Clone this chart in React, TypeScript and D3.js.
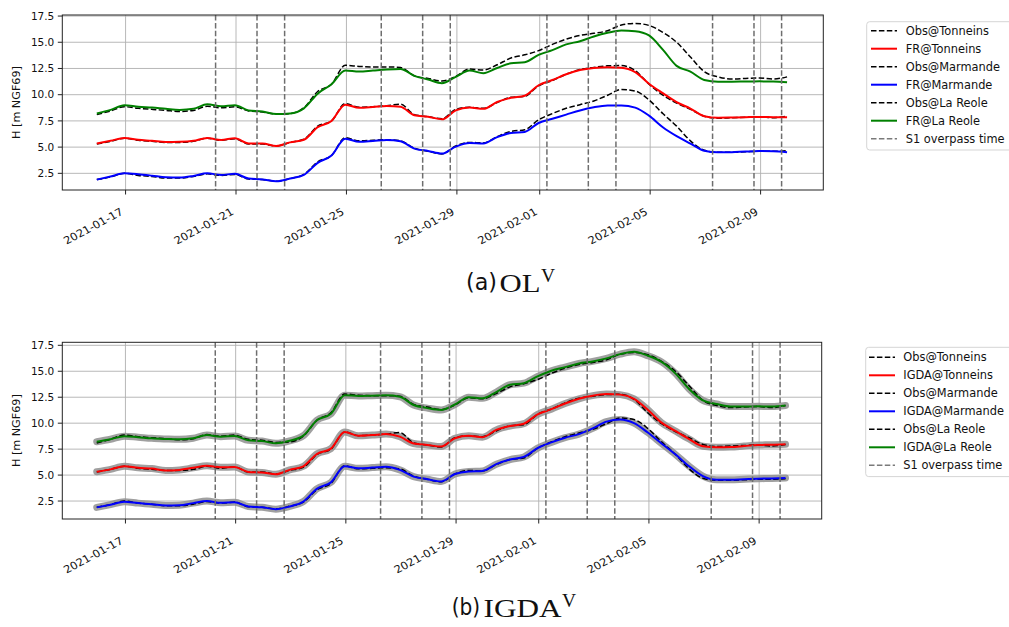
import React from 'react';
import * as d3 from 'd3';

// ---------- DATA ----------
const START_TIME = '2021-01-15T23:00:00';
const STEP_HOURS = 12;

const obsTonneins = [
  5.3, 5.55, 5.85, 5.65, 5.55, 5.45, 5.45, 5.55, 5.85, 5.65,
  5.8, 5.3, 5.3, 5.1, 5.45, 5.75, 7.0, 7.5, 9.15, 8.8,
  8.85, 8.95, 9.1, 8.1, 7.9, 7.7, 8.6, 8.8, 8.7, 9.25,
  9.75, 9.85, 10.85, 11.35, 11.95, 12.4, 12.6, 12.75, 12.78, 12.3,
  11.0, 9.95, 9.2, 8.6, 7.95, 7.75, 7.8, 7.85, 7.9, 7.8,
  7.95,
];
const frTonneins = [
  5.34, 5.6, 5.87, 5.7, 5.6, 5.48, 5.5, 5.6, 5.88, 5.68,
  5.85, 5.35, 5.34, 5.1, 5.45, 5.7, 6.9, 7.5, 9.05, 8.75,
  8.82, 8.92, 8.85, 8.04, 7.9, 7.65, 8.5, 8.77, 8.65, 9.3,
  9.7, 9.9, 10.9, 11.4, 11.95, 12.35, 12.55, 12.62, 12.58, 12.15,
  11.05, 10.15, 9.3, 8.68, 7.95, 7.8, 7.82, 7.85, 7.88, 7.86,
  7.85,
];
const obsMarmande = [
  1.9, 2.15, 2.5, 2.3, 2.2, 2.05, 2.05, 2.2, 2.45, 2.3,
  2.4, 1.95, 1.9, 1.75, 2.0, 2.4, 3.6, 4.2, 5.9, 5.6,
  5.65, 5.7, 5.6, 4.9, 4.6, 4.35, 5.1, 5.45, 5.4, 6.0,
  6.5, 6.65, 7.6, 8.2, 8.7, 9.05, 9.4, 9.95, 10.5, 10.35,
  9.5, 8.2, 7.0, 5.6, 4.7, 4.5, 4.5, 4.55, 4.6, 4.6,
  4.65,
];
const frMarmande = [
  1.9, 2.2, 2.5, 2.42, 2.28, 2.12, 2.1, 2.25, 2.5, 2.35,
  2.45, 2.0, 1.92, 1.74, 2.0, 2.35, 3.5, 4.2, 5.8, 5.5,
  5.58, 5.68, 5.55, 4.86, 4.63, 4.38, 5.05, 5.4, 5.35, 5.95,
  6.35, 6.45, 7.3, 7.7, 8.1, 8.5, 8.8, 8.97, 8.98, 8.77,
  8.0, 6.9, 6.05, 5.34, 4.65, 4.5, 4.52, 4.58, 4.62, 4.6,
  4.52,
];
const obsLaReole = [
  8.1, 8.45, 8.85, 8.7, 8.6, 8.5, 8.4, 8.5, 8.9, 8.75,
  8.85, 8.45, 8.35, 8.15, 8.2, 8.75, 10.3, 11.0, 12.8, 12.7,
  12.65, 12.65, 12.6, 11.8, 11.55, 11.3, 11.75, 12.45, 12.35, 12.85,
  13.5, 13.8, 14.2, 14.8, 15.3, 15.65, 15.85, 16.1, 16.65, 16.8,
  16.6, 15.95, 15.0, 13.6, 12.2, 11.7, 11.5, 11.55, 11.6, 11.5,
  11.7,
];
const frLaReole = [
  8.2, 8.55, 9.0, 8.85, 8.77, 8.65, 8.55, 8.65, 9.08, 8.9,
  9.0, 8.5, 8.4, 8.15, 8.2, 8.7, 10.1, 11.0, 12.3, 12.2,
  12.3, 12.4, 12.45, 11.8, 11.45, 11.1, 11.7, 12.3, 12.05, 12.55,
  13.0, 13.1, 13.8, 14.25, 14.8, 15.1, 15.55, 15.9, 16.12, 16.06,
  15.65, 14.3, 12.75, 12.2, 11.4, 11.24, 11.24, 11.26, 11.27, 11.25,
  11.18,
];
const igdaTonneins = [
  5.32, 5.55, 5.85, 5.7, 5.63, 5.45, 5.5, 5.7, 5.9, 5.75,
  5.78, 5.3, 5.25, 5.08, 5.5, 5.85, 7.05, 7.55, 9.15, 8.78,
  8.85, 8.95, 8.7, 8.04, 7.9, 7.75, 8.55, 8.78, 8.65, 9.35,
  9.73, 9.95, 10.85, 11.35, 11.9, 12.35, 12.65, 12.8, 12.75, 12.35,
  11.3, 10.05, 9.25, 8.47, 7.78, 7.68, 7.7, 7.8, 7.9, 7.92,
  7.97,
];
const igdaMarmande = [
  1.89, 2.15, 2.43, 2.3, 2.2, 2.07, 2.1, 2.3, 2.5, 2.33,
  2.38, 1.98, 1.9, 1.72, 1.98, 2.45, 3.7, 4.3, 5.85, 5.65,
  5.72, 5.8, 5.5, 4.85, 4.6, 4.38, 5.1, 5.35, 5.4, 6.05,
  6.5, 6.75, 7.6, 8.15, 8.6, 8.95, 9.5, 10.15, 10.35, 10.0,
  9.1, 8.05, 7.0, 5.85, 4.9, 4.55, 4.55, 4.6, 4.65, 4.68,
  4.72,
];
const igdaLaReole = [
  8.21, 8.45, 8.75, 8.65, 8.54, 8.48, 8.44, 8.55, 8.85, 8.7,
  8.76, 8.35, 8.28, 8.06, 8.3, 8.8, 10.3, 10.9, 12.7, 12.62,
  12.65, 12.68, 12.55, 11.75, 11.45, 11.27, 11.8, 12.5, 12.4, 13.0,
  13.7, 13.85, 14.5, 15.05, 15.4, 15.75, 15.95, 16.24, 16.65, 16.88,
  16.5, 15.9, 14.8, 13.3, 12.2, 11.85, 11.6, 11.6, 11.62, 11.6,
  11.7,
];

const s1Overpass = [
  '2021-01-20T06:15:00', '2021-01-21T18:15:00', '2021-01-22T18:15:00',
  '2021-01-26T06:15:00', '2021-01-27T18:15:00', '2021-01-28T18:15:00',
  '2021-02-01T06:15:00', '2021-02-02T18:15:00', '2021-02-03T18:15:00',
  '2021-02-07T06:15:00', '2021-02-08T18:15:00', '2021-02-09T18:15:00',
];
const xTickLabels = ['2021-01-17', '2021-01-21', '2021-01-25', '2021-01-29', '2021-02-01', '2021-02-05', '2021-02-09'];
const yTicks = [2.5, 5.0, 7.5, 10.0, 12.5, 15.0, 17.5];
const stations = ['Tonneins', 'Marmande', 'La Reole'];
const stationColors = ['#ff0000', '#0000ff', '#008000'];
const X_DOMAIN = ['2021-01-14T17:00:00', '2021-02-11T06:30:00'];

// ---------- HELPERS ----------
const startMs = new Date(START_TIME).getTime();
const dates = obsTonneins.map((_, i) => new Date(startMs + i * STEP_HOURS * 3600e3));
const parseLocal = (s: string) => new Date(s.length === 10 ? s + 'T00:00:00' : s);
const FONT = 'DejaVu Sans, Verdana, sans-serif';
const SERIF = 'Liberation Serif, DejaVu Serif, serif';

type PanelProps = {
  x0: number; x1: number; y0: number; y1: number;
  yDomain: [number, number];
  prefix: string;
  model: number[][];
  ensemble: boolean;
  legend: { x: number; y: number; h: number; hx0: number; hx1: number; tx: number; row0: number };
};

function Panel({ x0, x1, y0, y1, yDomain, prefix, model, ensemble, legend }: PanelProps) {
  const x = d3.scaleTime().domain(X_DOMAIN.map(parseLocal)).range([x0, x1]);
  const y = d3.scaleLinear().domain(yDomain).range([y1, y0]);
  const line = d3
    .line<number>()
    .x((_, i) => x(dates[i]))
    .y((d) => y(d))
    .curve(d3.curveMonotoneX);
  const obs = [obsTonneins, obsMarmande, obsLaReole];
  const tickDates = xTickLabels.map(parseLocal);
  const s1 = s1Overpass.map(parseLocal);
  const clipId = 'clip' + prefix;

  const legendItems: { label: string; color: string; dash: boolean }[] = [];
  stations.forEach((s, i) => {
    legendItems.push({ label: 'Obs@' + s, color: '#000', dash: true });
    legendItems.push({ label: prefix + '@' + s, color: stationColors[i], dash: false });
  });
  legendItems.push({ label: 'S1 overpass time', color: '#7a7a7a', dash: true });

  return (
    <g>
      <defs>
        <clipPath id={clipId}>
          <rect x={x0} y={y0} width={x1 - x0} height={y1 - y0} />
        </clipPath>
      </defs>
      {/* grid */}
      {yTicks.map((t) => (
        <line key={'gy' + t} x1={x0} x2={x1} y1={y(t)} y2={y(t)} stroke="#b0b0b0" strokeWidth={0.9} />
      ))}
      {tickDates.map((d, i) => (
        <line key={'gx' + i} x1={x(d)} x2={x(d)} y1={y0} y2={y1} stroke="#b0b0b0" strokeWidth={0.9} />
      ))}
      <g clipPath={`url(#${clipId})`}>
        {ensemble &&
          model.map((m, i) => (
            <path key={'ens' + i} d={line(m) || ''} fill="none" stroke="#8f8f8f" strokeOpacity={0.85} strokeWidth={7} strokeLinejoin="round" strokeLinecap="round" />
          ))}
        {stations.map((s, i) => (
          <g key={s}>
            <path d={line(obs[i]) || ''} fill="none" stroke="#000" strokeWidth={1.5} strokeDasharray="5.5,2.4" />
            <path d={line(model[i]) || ''} fill="none" stroke={stationColors[i]} strokeWidth={2} strokeLinejoin="round" />
          </g>
        ))}
        {s1.map((d, i) => (
          <line key={'s1' + i} x1={x(d)} x2={x(d)} y1={y0} y2={y1} stroke="#6e6e6e" strokeWidth={1.5} strokeDasharray="5.5,2.4" />
        ))}
      </g>
      {/* spine */}
      <rect x={x0} y={y0} width={x1 - x0} height={y1 - y0} fill="none" stroke="#222" strokeWidth={1} />
      {/* y ticks */}
      {yTicks.map((t) => (
        <g key={'yt' + t}>
          <line x1={x0 - 4.5} x2={x0} y1={y(t)} y2={y(t)} stroke="#222" strokeWidth={1} />
          <text x={x0 - 8} y={y(t) + 3.8} textAnchor="end" fontFamily={FONT} fontSize={10.5} fill="#111">
            {t.toFixed(1)}
          </text>
        </g>
      ))}
      {/* x ticks */}
      {tickDates.map((d, i) => {
        const tx = x(d);
        return (
          <g key={'xt' + i}>
            <line x1={tx} x2={tx} y1={y1} y2={y1 + 4.5} stroke="#222" strokeWidth={1} />
            <text
              transform={`translate(${tx - 1.5},${y1 + 24}) scale(1.08,1) rotate(-30)`}
              textAnchor="end"
              fontFamily={FONT}
              fontSize={10.6}
              fill="#111"
            >
              {xTickLabels[i]}
            </text>
          </g>
        );
      })}
      {/* y label */}
      <text
        transform={`translate(${19.5},${(y0 + y1) / 2}) rotate(-90)`}
        textAnchor="middle"
        fontFamily={FONT}
        fontSize={11.2}
        fill="#111"
      >
        H [m NGF69]
      </text>
      {/* legend */}
      <rect x={legend.x} y={legend.y} width={160} height={legend.h} rx={3} fill="#fff" fillOpacity={0.8} stroke="#d5d5d5" strokeWidth={1} />
      {legendItems.map((it, i) => {
        const cy = legend.row0 + i * 18;
        return (
          <g key={'lg' + i}>
            <line x1={legend.hx0} x2={legend.hx1} y1={cy} y2={cy} stroke={it.color} strokeWidth={it.dash ? 1.5 : 2} strokeDasharray={it.dash ? '5.5,2.4' : undefined} />
            <text x={legend.tx} y={cy + 4} fontFamily={FONT} fontSize={11.4} fill="#111">
              {it.label}
            </text>
          </g>
        );
      })}
    </g>
  );
}

function Caption({ letter, name, xL, xN, xV, base, nameW, letterW, vBase }: any) {
  return (
    <g fill="#111">
      <text x={xL} y={base - 1.5} fontFamily={FONT} fontSize={23.5} textLength={letterW} lengthAdjust="spacingAndGlyphs">
        {letter}
      </text>
      <text x={xN} y={base} fontFamily={SERIF} fontSize={25} textLength={nameW} lengthAdjust="spacingAndGlyphs">
        {name}
      </text>
      <text x={xV} y={vBase} fontFamily={SERIF} fontSize={19.5}>
        V
      </text>
    </g>
  );
}

export default function App() {
  return (
    <svg
      width={1009}
      height={627}
      style={{ position: 'absolute', left: 0, top: 0, background: '#fff' }}
      xmlns="http://www.w3.org/2000/svg"
    >
      <rect x={0} y={0} width={1009} height={627} fill="#fff" />
      <Panel
        x0={62.3}
        x1={823.3}
        y0={15}
        y1={190}
        yDomain={[0.91, 17.6]}
        prefix="FR"
        model={[frTonneins, frMarmande, frLaReole]}
        ensemble={false}
        legend={{ x: 866.7, y: 21.7, h: 128.3, hx0: 871, hx1: 897, tx: 905.7, row0: 30.7 }}
      />
      <Panel
        x0={62.3}
        x1={821.7}
        y0={342.3}
        y1={519}
        yDomain={[0.77, 17.79]}
        prefix="IGDA"
        model={[igdaTonneins, igdaMarmande, igdaLaReole]}
        ensemble={true}
        legend={{ x: 865.7, y: 347.3, h: 129.3, hx0: 869, hx1: 895, tx: 903.3, row0: 357.3 }}
      />
      <Caption letter="(a)" name="OL" xL={466} xN={499.5} xV={541} base={291.7} letterW={31} nameW={41} vBase={281.5} />
      <Caption letter="(b)" name="IGDA" xL={451.7} xN={483.5} xV={562} base={616.7} letterW={28.5} nameW={78} vBase={606.5} />
    </svg>
  );
}
